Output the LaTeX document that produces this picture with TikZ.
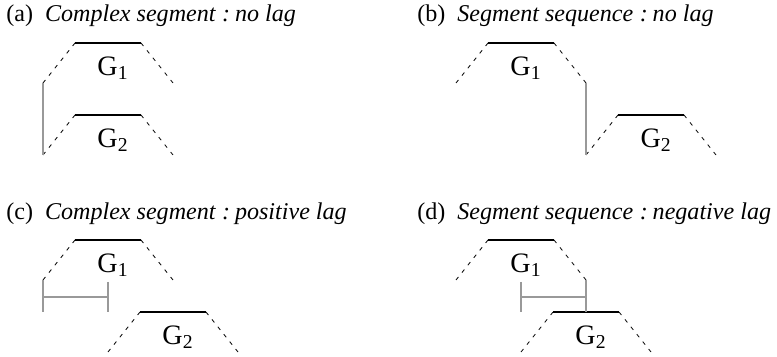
\documentclass[tikz,border=0pt]{standalone}
\usepackage{fontspec}
\setmainfont{Liberation Serif}
\usepackage{tikz}
\usetikzlibrary{positioning, calc}

\begin{document}
\begin{tikzpicture}[
  x=0.02cm, y=-0.02cm,
  font=\fontsize{13.7}{15}\selectfont,
  title/.style={anchor=base west, inner sep=0pt},
  glabel/.style={font=\fontsize{16}{18}\selectfont, inner sep=0pt},
  slope/.style={draw, line width=0.45pt, dash pattern=on 2.2pt off 3.2pt},
  top/.style={draw, line width=1.1pt},
  lagline/.style={draw, line width=0.6pt, black!40}
]
  \useasboundingbox (0,0) rectangle (777,357);

  % Titel der vier Teilbilder
  \node[title] (ta) at (6,22)    {(a)\enspace\textit{Complex segment\;:\hspace{0.2em}no lag}};
  \node[title] (tb) at (417,22)  {(b)\enspace\textit{Segment sequence\;:\hspace{0.2em}no lag}};
  \node[title] (tc) at (6,220)   {(c)\enspace\textit{Complex segment\;:\hspace{0.2em}positive lag}};
  \node[title] (td) at (417,220) {(d)\enspace\textit{Segment sequence\;:\hspace{0.2em}negative lag}};

  % Trapeze: Name / obere linke Ecke / Index
  \foreach \n/\x/\y/\g in {a1/75/43/1, a2/75/115/2, b1/488/43/1, b2/618/115/2,
                            c1/75/240/1, c2/140/312/2, d1/488/240/1, d2/553/312/2} {
    \coordinate (\n tl) at (\x,\y);
    \coordinate (\n tr) at (\x+66,\y);
    \coordinate (\n bl) at (\x-32,\y+40);
    \coordinate (\n br) at (\x+98,\y+40);
    \draw[slope] (\n bl) -- (\n tl);
    \draw[top] (\n tl) -- (\n tr);
    \draw[slope] (\n tr) -- (\n br);
    \node[glabel] (\n lab) at (\x+38,\y+25) {G\textsubscript{\g}};
  }

  % (a) und (b): Verbindung ohne Verzug
  \draw[lagline] (a1bl) -- (a2bl);
  \draw[lagline] (b1br) -- (b2bl);

  % (c): positiver Verzug
  \coordinate (cstop) at (a1bl |- c2tl);
  \coordinate (ctick) at (c2bl |- 0,282);
  \draw[lagline] (c1bl) -- (cstop);
  \draw[lagline] (ctick) -- (ctick |- c2tl);
  \draw[lagline] (c1bl |- 0,297) -- (c2bl |- 0,297);

  % (d): negativer Verzug
  \coordinate (dtick) at (d2bl |- 0,282);
  \draw[lagline] (d1br) -- (d1br |- d2tl);
  \draw[lagline] (dtick) -- (dtick |- d2tl);
  \draw[lagline] (d2bl |- 0,297) -- (d1br |- 0,297);
\end{tikzpicture}
\end{document}
